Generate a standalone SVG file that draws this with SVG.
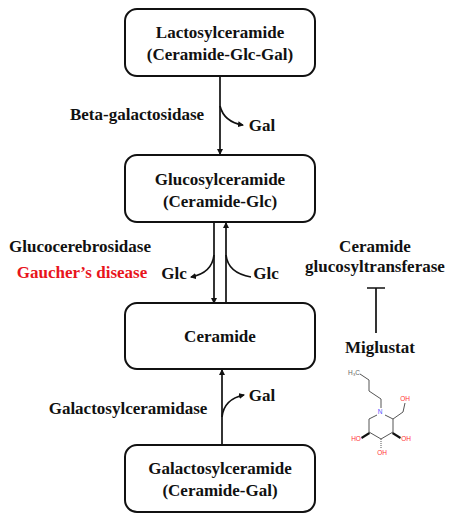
<svg xmlns="http://www.w3.org/2000/svg" width="456" height="516" viewBox="0 0 456 516">
<style>
text{font-family:"Liberation Serif",serif;font-weight:bold;font-size:17px;fill:#111;text-anchor:middle}
.box{fill:#fff;stroke:#111;stroke-width:2}
.c{fill:none;stroke:#111;stroke-width:1.7}
.m{fill:none;stroke:#555;stroke-width:1}
.a{font-size:6.5px;font-family:"Liberation Sans",sans-serif;font-weight:normal;fill:#f33}
</style>
<defs>
<marker id="ah" markerWidth="6" markerHeight="6" refX="5" refY="3" orient="auto" markerUnits="userSpaceOnUse"><path d="M0,0L6,3L0,6Z" fill="#111"/></marker>
</defs>
<rect width="456" height="516" fill="#fff"/>
<g id="connectors">
<path class="c" d="M220 76V154" marker-end="url(#ah)"/>
<path class="c" d="M220 106Q224 122 243 125" marker-end="url(#ah)"/>
<path class="c" d="M214 222V303" marker-end="url(#ah)"/>
<path class="c" d="M214 255Q212 273 191 277" marker-end="url(#ah)"/>
<path class="c" d="M226 303V223" marker-end="url(#ah)"/>
<path class="c" d="M226 255Q228 273 251 277"/>
<path class="c" d="M222 445V370" marker-end="url(#ah)"/>
<path class="c" d="M222 417Q224 399 244 395" marker-end="url(#ah)"/>
<path class="c" d="M376 333V288M367 288H385"/>
</g>
<g id="lactosylceramide"><rect class="box" x="125" y="9" width="190" height="67" rx="12"/><text x="220" y="38">Lactosylceramide</text><text x="220" y="60">(Ceramide-Glc-Gal)</text></g>
<g id="glucosylceramide"><rect class="box" x="125" y="155" width="190" height="67" rx="12"/><text x="220" y="185">Glucosylceramide</text><text x="220" y="207">(Ceramide-Glc)</text></g>
<g id="ceramide"><rect class="box" x="125" y="303" width="190" height="66" rx="12"/><text x="220" y="342">Ceramide</text></g>
<g id="galactosylceramide"><rect class="box" x="125" y="445" width="190" height="67" rx="12"/><text x="220" y="474">Galactosylceramide</text><text x="220" y="496">(Ceramide-Gal)</text></g>
<g id="labels">
<text x="137" y="120">Beta-galactosidase</text>
<text x="262" y="131">Gal</text>
<text x="80" y="252">Glucocerebrosidase</text>
<text x="82" y="278" style="fill:#e8141c">Gaucher’s disease</text>
<text x="174" y="279">Glc</text>
<text x="266" y="279">Glc</text>
<text x="375" y="252">Ceramide</text>
<text x="375" y="272">glucosyltransferase</text>
<text x="380" y="353">Miglustat</text>
<text x="128" y="414">Galactosylceramidase</text>
<text x="262" y="401">Gal</text>
</g>
<g id="miglustat">
<path class="m" d="M360 374L369 380V391L381 399V408M377 415L369 419V432L381 439L393 432V419L385 415M393 419L403 412L405 403"/>
<path d="M369 432L361 437L362 439L370 434Z" fill="#111"/>
<path d="M393 432L401 437L400 439L392 434Z" fill="#111"/>
<path class="m" stroke-dasharray="1 1" d="M381 439V448"/>
<text class="a" x="354" y="375" style="fill:#666">H₃C</text>
<text x="380" y="414" class="a" style="fill:#55f">N</text>
<text class="a" x="405" y="401">OH</text>
<text class="a" x="356" y="441">HO</text>
<text class="a" x="406" y="441">OH</text>
<text class="a" x="382" y="455">OH</text>
</g>
</svg>
